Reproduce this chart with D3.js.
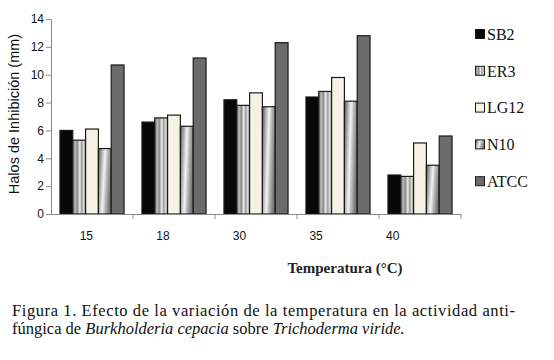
<!DOCTYPE html>
<html>
<head>
<meta charset="utf-8">
<script src="https://cdn.jsdelivr.net/npm/d3@7"></script>
<style>
  body { margin: 0; background: #fff; }
  svg { display: block; }
</style>
</head>
<body>
<svg id="chart" width="554" height="360"></svg>
<script>
// temperaturas (eje x) y cepas (series)
const temps = ["15", "18", "30", "35", "40"];
const strains = ["SB2", "ER3", "LG12", "N10", "ATCC"];
const sb2  = [6.0, 6.6, 8.2, 8.4, 2.8];
const er3  = [5.3, 6.9, 7.8, 8.8, 2.7];
const lg12 = [6.1, 7.1, 8.7, 9.8, 5.1];
const n10  = [4.7, 6.3, 7.7, 8.1, 3.5];
const atcc = [10.7, 11.2, 12.3, 12.8, 5.6];
const yTicks = [0, 2, 4, 6, 8, 10, 12, 14];

const seriesValues = [sb2, er3, lg12, n10, atcc];

const svg = d3.select("#chart");
const margin = {top: 19, left: 51, right: 93, bottom: 146};
const width = 554 - margin.left - margin.right,
      height = 360 - margin.top - margin.bottom;

const defs = svg.append("defs");
// franjas verticales para ER3
let gEr = defs.append("linearGradient").attr("id", "gEr3").attr("x1", 0).attr("x2", 1).attr("y1", 0).attr("y2", 0);
[["0%", "#777"], ["20%", "#bbb"], ["35%", "#888"], ["55%", "#eee"], ["70%", "#999"], ["85%", "#ddd"], ["100%", "#888"]]
  .forEach(function(s) { gEr.append("stop").attr("offset", s[0]).attr("stop-color", s[1]); });
// degradado diagonal para N10
let gN = defs.append("linearGradient").attr("id", "gN10").attr("x1", 0).attr("x2", 1).attr("y1", 0).attr("y2", 0.25);
[["0%", "#555"], ["25%", "#aaa"], ["50%", "#f4f4f4"], ["70%", "#bbb"], ["100%", "#777"]]
  .forEach(function(s) { gN.append("stop").attr("offset", s[0]).attr("stop-color", s[1]); });

const fills = ["#080808", "url(#gEr3)", "#f3f2e4", "url(#gN10)", "#6b6b6b"];

const g = svg.append("g").attr("transform", "translate(" + margin.left + "," + margin.top + ")");

const x0 = d3.scaleBand().domain(temps).range([0, width]);
const x1 = d3.scaleBand().domain(strains).range([0, x0.bandwidth()]).paddingOuter(0.7).paddingInner(0);
const y = d3.scaleLinear().domain([0, 14]).range([height, 0]);

// eje y
const yAxis = g.append("g")
  .call(d3.axisLeft(y).tickValues(yTicks).tickSize(5).tickPadding(2).tickSizeOuter(0));
yAxis.select(".domain").attr("stroke", "#8a8a8a");
yAxis.selectAll(".tick line").attr("stroke", "#8a8a8a");
yAxis.selectAll("text").style("font", "12px 'Liberation Sans', Arial, sans-serif").attr("fill", "#111");

// barras
const groups = g.selectAll(".grp")
  .data(temps)
  .enter().append("g")
  .attr("class", "grp")
  .attr("transform", function(d) { return "translate(" + x0(d) + ",0)"; });

groups.selectAll("rect")
  .data(function(t, i) {
    return strains.map(function(s, j) { return {strain: s, j: j, value: seriesValues[j][i]}; });
  })
  .enter().append("rect")
  .attr("x", function(d) { return x1(d.strain); })
  .attr("y", function(d) { return y(d.value); })
  .attr("width", x1.bandwidth())
  .attr("height", function(d) { return height - y(d.value); })
  .attr("fill", function(d) { return fills[d.j]; })
  .attr("stroke", "#1a1a1a")
  .attr("stroke-width", 1.2);

// eje x
g.append("line")
  .attr("x1", 0).attr("x2", width)
  .attr("y1", height + 0.5).attr("y2", height + 0.5)
  .attr("stroke", "#8a8a8a");
g.selectAll(".xsep")
  .data(temps.slice(1).concat(["end"]))
  .enter().append("line")
  .attr("x1", function(d) { return d === "end" ? width : x0(d); })
  .attr("x2", function(d) { return d === "end" ? width : x0(d); })
  .attr("y1", height).attr("y2", height + 5)
  .attr("stroke", "#8a8a8a");

// etiquetas de temperatura (algo desplazadas a la izquierda en el original)
const xLab = d3.scaleBand().domain(temps).range([-3, width - 30]);
const xAxis = g.append("g")
  .attr("transform", "translate(0," + height + ")")
  .call(d3.axisBottom(xLab).tickSize(0).tickPadding(17));
xAxis.select(".domain").remove();
xAxis.selectAll("text").style("font", "12px 'Liberation Sans', Arial, sans-serif").attr("fill", "#111");

// titulo eje y
svg.append("text")
  .attr("transform", "translate(19,114) rotate(-90)")
  .attr("text-anchor", "middle")
  .style("font", "14.5px 'Liberation Sans', Arial, sans-serif")
  .attr("fill", "#111")
  .text("Halos de Inhibición (mm)");

// titulo eje x
svg.append("text")
  .attr("x", 345).attr("y", 273)
  .attr("text-anchor", "middle")
  .style("font", "bold 15px 'Liberation Serif', 'Times New Roman', serif")
  .attr("fill", "#222")
  .text("Temperatura (°C)");

// leyenda
const legend = svg.append("g").attr("transform", "translate(475,34)");
const item = legend.selectAll(".leg")
  .data(strains)
  .enter().append("g")
  .attr("class", "leg")
  .attr("transform", function(d, i) { return "translate(0," + (i * 36.8) + ")"; });
item.append("rect")
  .attr("x", 0.5).attr("y", -4.5)
  .attr("width", 9).attr("height", 9)
  .attr("fill", function(d, i) { return fills[i]; })
  .attr("stroke", "#1a1a1a");
item.append("text")
  .attr("x", 12).attr("dy", "0.36em")
  .style("font", "16px 'Liberation Serif', 'Times New Roman', serif")
  .attr("fill", "#111")
  .text(function(d) { return d; });

// pie de figura
const cap = svg.append("text")
  .style("font", "16.5px 'Liberation Serif', 'Times New Roman', serif")
  .attr("fill", "#111");
cap.append("tspan").attr("x", 12).attr("y", 316)
  .attr("textLength", 503).attr("lengthAdjust", "spacing")
  .text("Figura 1. Efecto de la variación de la temperatura en la actividad anti-");
const l2 = cap.append("tspan").attr("x", 12).attr("y", 334);
l2.append("tspan").text("fúngica de ");
l2.append("tspan").style("font-style", "italic").text("Burkholderia cepacia");
l2.append("tspan").text(" sobre ");
l2.append("tspan").style("font-style", "italic").text("Trichoderma viride.");
</script>
</body>
</html>
